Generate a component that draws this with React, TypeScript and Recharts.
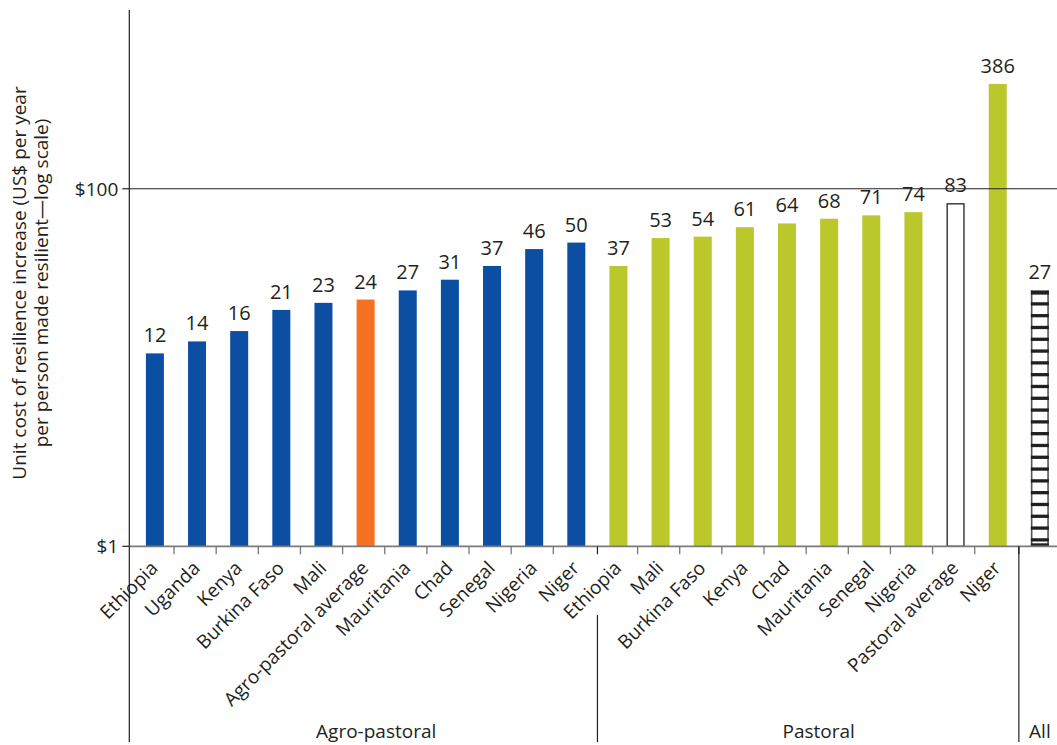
import React from 'react';
import { BarChart, Bar, XAxis, YAxis, ReferenceLine } from 'recharts';

const categories = ['Ethiopia', 'Uganda', 'Kenya', 'Burkina Faso', 'Mali', 'Agro-pastoral average', 'Mauritania', 'Chad', 'Senegal', 'Nigeria', 'Niger', 'Ethiopia', 'Mali', 'Burkina Faso', 'Kenya', 'Chad', 'Mauritania', 'Senegal', 'Nigeria', 'Pastoral average', 'Niger', ''];
const values = [12, 14, 16, 21, 23, 24, 27, 31, 37, 46, 50, 37, 53, 54, 61, 64, 68, 71, 74, 83, 386, 27];
const kinds = ['agro', 'agro', 'agro', 'agro', 'agro', 'agroAvg', 'agro', 'agro', 'agro', 'agro', 'agro', 'past', 'past', 'past', 'past', 'past', 'past', 'past', 'past', 'pastAvg', 'past', 'all'];
const groupLabels = ['Agro-pastoral', 'Pastoral', 'All'];
const groupCenters = [5.25, 15.75, 21];
const separatorsAfter = [10, 20];
const yTicks = [1, 100];

const colors: Record<string, string> = {
  agro: '#0B4EA2',
  agroAvg: '#F37121',
  past: '#BAC82B',
  pastAvg: '#FFFFFF',
  all: '#FFFFFF',
};

const data = categories.map((c, i) => ({ id: `c${i}`, name: c, value: values[i], kind: kinds[i] }));

const FONT = '"Open Sans", "Noto Sans", sans-serif';
const TEXT = '#231F20';
const W = 1061;
const H = 745;
const PLOT_LEFT = 129.3;
const PAD_L = 4.6;
const BAND = (W - PLOT_LEFT - PAD_L) / categories.length;
const AXIS_Y = 546.3;
const BOTTOM_Y = 742;
const FS = 19;

const BarShape = (props: any) => {
  const { x, y, width, height, payload } = props;
  const k = payload.kind;
  if (k === 'pastAvg') {
    return <rect x={x + 0.6} y={y + 0.6} width={width - 1.2} height={height - 0.6} fill="#fff" stroke="#231F20" strokeWidth={1.3} />;
  }
  if (k === 'all') {
    const stripes = [];
    for (let yy = y; yy < y + height - 2; yy += 11.8) {
      stripes.push(<rect key={yy} x={x} y={yy} width={width} height={yy === y ? 4.2 : 3.3} fill="#231F20" />);
    }
    return (
      <g>
        <rect x={x} y={y} width={width} height={height} fill="#fff" />
        <line x1={x + 0.8} x2={x + 0.8} y1={y} y2={y + height} stroke="#555" strokeWidth={1.6} />
        <line x1={x + width - 0.8} x2={x + width - 0.8} y1={y} y2={y + height} stroke="#555" strokeWidth={1.6} />
        {stripes}
        <rect x={x} y={y + height - 3} width={width} height={3} fill="#231F20" />
      </g>
    );
  }
  return <rect x={x} y={y} width={width} height={height} fill={colors[k]} />;
};

const XTick = (props: any) => {
  const { x, index } = props;
  const name = categories[index];
  const isSep = separatorsAfter.includes(index);
  const gi = groupCenters.findIndex((g) => Math.floor(g) === index);
  const sx = x + BAND / 2;
  return (
    <g>
      {index === 0 && (
        <line x1={x - BAND / 2 - PAD_L} x2={x - BAND / 2 - PAD_L} y1={AXIS_Y} y2={BOTTOM_Y} stroke="#231F20" strokeWidth={1.2} />
      )}
      {isSep ? (
        <g>
          <line x1={sx} x2={sx} y1={AXIS_Y} y2={AXIS_Y + 8} stroke="#231F20" strokeWidth={1.2} />
          <line x1={sx} x2={sx} y1={index === 10 ? 615 : AXIS_Y} y2={BOTTOM_Y} stroke="#231F20" strokeWidth={1.2} />
        </g>
      ) : index < categories.length - 1 ? (
        <line x1={sx - 2} x2={sx - 2} y1={AXIS_Y} y2={AXIS_Y + 8} stroke="#777" strokeWidth={1.3} />
      ) : null}
      {name && (
        <text
          transform={`translate(${x + 4},${AXIS_Y + 23}) rotate(-45)`}
          textAnchor="end"
          fontSize={FS}
          fontFamily={FONT}
          fill={TEXT}
        >
          {name}
        </text>
      )}
      {gi >= 0 && (
        <text
          x={x + (groupCenters[gi] - index) * BAND}
          y={737.5}
          textAnchor="middle"
          fontSize={FS}
          fontFamily={FONT}
          fill={TEXT}
        >
          {groupLabels[gi]}
        </text>
      )}
    </g>
  );
};

const YTitle = () => (
  <g>
    <text transform="translate(26,283) rotate(-90)" textAnchor="middle" fontSize={FS} fontFamily={FONT} fill={TEXT}>
      Unit cost of resilience increase (US$ per year
    </text>
    <text transform="translate(48,283) rotate(-90)" textAnchor="middle" fontSize={FS} fontFamily={FONT} fill={TEXT}>
      per person made resilient—log scale)
    </text>
  </g>
);

export default function App() {
  return (
    <div style={{ position: 'absolute', left: 0, top: 0, width: 1057, height: 745, overflow: 'hidden', background: '#fff' }}>
      <BarChart width={W} height={H} data={data} margin={{ top: 10, right: 0, bottom: 0, left: 0 }} barSize={18}>
        <XAxis
          dataKey="id"
          type="category"
          height={H - AXIS_Y - 0.01}
          interval={0}
          tickLine={false}
          tickSize={0}
          tickMargin={0}
          padding={{ left: PAD_L, right: 0 }}
          axisLine={{ stroke: '#7a7a7a', strokeWidth: 1.8 }}
          tick={(p: any) => <XTick {...p} />}
        />
        <YAxis
          scale="log"
          domain={[1, 1000]}
          ticks={yTicks}
          allowDataOverflow
          width={PLOT_LEFT}
          tickSize={7}
          tickMargin={4}
          tickFormatter={(v: number) => `$${v}`}
          tick={{ fontSize: FS, fill: TEXT, fontFamily: FONT }}
          tickLine={{ stroke: '#231F20', strokeWidth: 1.2 }}
          axisLine={{ stroke: '#231F20', strokeWidth: 1.2 }}
          label={{ content: () => <YTitle /> }}
        />
        <ReferenceLine y={100} stroke="#231F20" strokeWidth={1.2} />
        <Bar
          dataKey="value"
          isAnimationActive={false}
          shape={(p: any) => <BarShape {...p} />}
          label={{ position: 'top', offset: 11, fontSize: 20, fill: TEXT, fontFamily: FONT }}
        />
      </BarChart>
    </div>
  );
}
